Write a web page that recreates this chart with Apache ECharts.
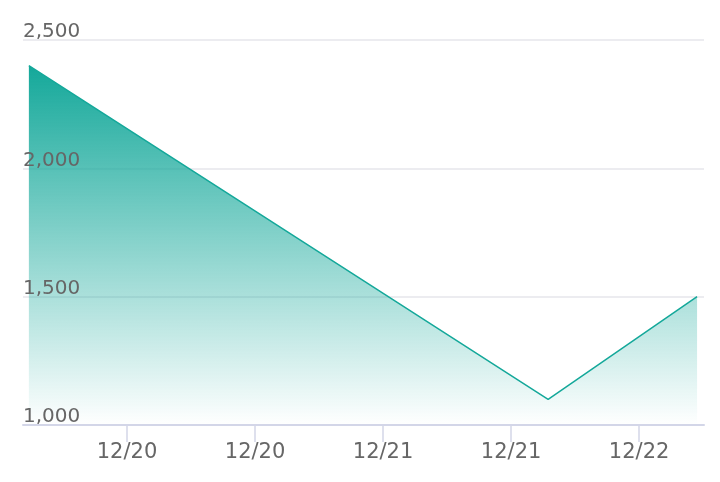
<!DOCTYPE html>
<html>
<head>
<meta charset="utf-8">
<script src="https://cdn.jsdelivr.net/npm/echarts@6/dist/echarts.min.js"></script>
<style>html,body{margin:0;padding:0;background:#fff}#c{width:720px;height:482px}</style>
</head>
<body>
<div id="c"></div>
<script>
// Time in hours relative to 12/20 00:00
var hours = [-9.2, 39.47, 53.43];
var values = [2400, 1100, 1500];
var tickHours = [0, 12, 24, 36, 48];
var tickLabels = ['12/20', '12/20', '12/21', '12/21', '12/22'];
var xMin = -9.75, xMax = 54.08;
var yMin = 1000, yMax = 2500, yStep = 500;

var chart = echarts.init(document.getElementById('c'), null, {renderer: 'canvas'});
chart.setOption({
  animation: false,
  grid: {left: 23, right: 16, top: 40, bottom: 57, containLabel: false, outerBoundsMode: 'none'},
  xAxis: {
    type: 'value',
    min: xMin, max: xMax,
    z: 3,
    splitLine: {show: false},
    axisLine: {lineStyle: {color: '#d3d6e8', width: 2}},
    axisTick: {show: true, length: 17, customValues: tickHours, lineStyle: {color: '#d3d6e8', width: 1.5}},
    axisLabel: {
      color: '#666', fontSize: 21, fontFamily: 'DejaVu Sans', margin: 17,
      customValues: tickHours,
      formatter: function(v){ var i = tickHours.indexOf(v); return i >= 0 ? tickLabels[i] : ''; }
    }
  },
  yAxis: {
    type: 'value', min: yMin, max: yMax, interval: yStep,
    z: 3,
    axisLine: {show: false}, axisTick: {show: false},
    splitLine: {lineStyle: {color: 'rgba(200,200,210,0.45)', width: 1.5}},
    axisLabel: {
      inside: true, margin: 0, verticalAlign: 'bottom', lineHeight: 16, padding: 0,
      color: '#666', fontSize: 20, fontFamily: 'DejaVu Sans',
      formatter: function(v){ return v.toLocaleString('en-US'); }
    }
  },
  series: [{
    type: 'line',
    data: hours.map(function(h, i){ return [h, values[i]]; }),
    symbol: 'none',
    lineStyle: {color: '#14a89a', width: 1.5},
    areaStyle: {
      opacity: 1,
      color: new echarts.graphic.LinearGradient(0, 0, 0, 1, [
        {offset: 0, color: 'rgba(20,168,154,1)'},
        {offset: 1, color: 'rgba(20,168,154,0)'}
      ])
    }
  }]
});
</script>
</body>
</html>
